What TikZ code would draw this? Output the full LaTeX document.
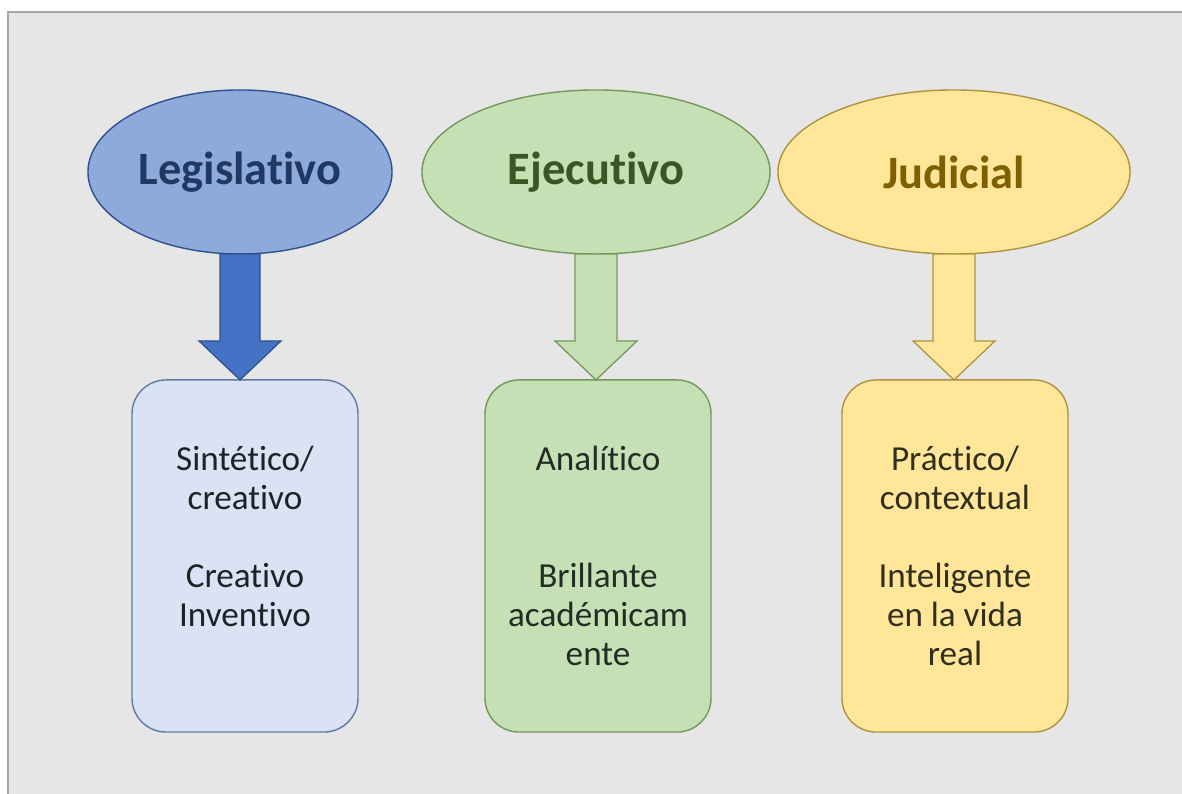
\documentclass[tikz,border=0pt]{standalone}
\usepackage{fontspec}
\setmainfont{Carlito}[Ligatures=NoCommon]
\usetikzlibrary{shapes.geometric,calc}
\definecolor{panel}{HTML}{E7E6E6}
\definecolor{panelborde}{HTML}{A6A6A6}
\definecolor{legfondo}{HTML}{8EAADB}
\definecolor{legborde}{HTML}{2F528F}
\definecolor{legtexto}{HTML}{1F3864}
\definecolor{legflecha}{HTML}{4472C4}
\definecolor{legcajafondo}{HTML}{DAE3F3}
\definecolor{legcajaborde}{HTML}{5F7BA5}
\definecolor{ejefondo}{HTML}{C5E0B4}
\definecolor{ejeborde}{HTML}{74975C}
\definecolor{ejetexto}{HTML}{385723}
\definecolor{judfondo}{HTML}{FFE699}
\definecolor{judborde}{HTML}{AD9340}
\definecolor{judtexto}{HTML}{7F6000}
\definecolor{textocaja}{HTML}{1E2126}
\begin{document}
\begin{tikzpicture}[x=0.025cm,y=0.025cm,
  poder/.style={ellipse,draw,line width=1pt,outer sep=0pt,minimum height=4.1cm,font=\fontsize{33}{40}\selectfont\bfseries},
  caja/.style={rectangle,rounded corners=0.85cm,draw,line width=1pt,outer sep=0pt,minimum width=5.65cm,minimum height=8.8cm,align=center,font=\fontsize{25}{27.7}\selectfont},
  flecha/.style={line width=0.9pt,line join=miter}]
\useasboundingbox (0,0) rectangle (1182,794);
\draw[fill=panel,draw=panelborde,line width=1.2pt] (8,-20) rectangle (1210,782);
% los tres poderes
\node[poder,fill=legfondo,draw=legborde,text=legtexto,minimum width=7.6cm] (leg) at (240,622) {Legislativo};
\node[poder,fill=ejefondo,draw=ejeborde,text=ejetexto,minimum width=8.7cm] (eje) at (596,622) {Ejecutivo};
\node[poder,fill=judfondo,draw=judborde,text=judtexto,minimum width=8.8cm] (jud) at (954,622) {Judicial};
% cajas
\node[caja,fill=legcajafondo,draw=legcajaborde,text=textocaja] (legcaja) at (245,238) {Sintético/\\creativo\\~\\Creativo\\Inventivo\\~};
\node[caja,fill=ejefondo,draw=ejeborde,text=textocaja!80!ejetexto] (ejecaja) at (598,238) {Analítico\\~\\~\\Brillante\\académicam\\ente};
\node[caja,fill=judfondo,draw=judborde,text=textocaja!80!judtexto] (judcaja) at (955,238) {Práctico/\\contextual\\~\\Inteligente\\en la vida\\real};
% flechas
\draw[flecha,fill=legflecha,draw=legborde] ($(leg.south)+(-20,0)$) -- ($(leg.south |- legcaja.north)+(-20,39)$) -- ++(-21,0) -- (leg.south |- legcaja.north) -- ++(41,39) -- ++(-21,0) -- ($(leg.south)+(20,0)$) -- cycle;
\draw[flecha,fill=ejefondo,draw=ejeborde] ($(eje.south)+(-21,0)$) -- ($(eje.south |- ejecaja.north)+(-21,39)$) -- ++(-20,0) -- (eje.south |- ejecaja.north) -- ++(41,39) -- ++(-20,0) -- ($(eje.south)+(21,0)$) -- cycle;
\draw[flecha,fill=judfondo,draw=judborde] ($(jud.south)+(-21,0)$) -- ($(jud.south |- judcaja.north)+(-21,39)$) -- ++(-20,0) -- (jud.south |- judcaja.north) -- ++(41,39) -- ++(-20,0) -- ($(jud.south)+(21,0)$) -- cycle;
\end{tikzpicture}
\end{document}
